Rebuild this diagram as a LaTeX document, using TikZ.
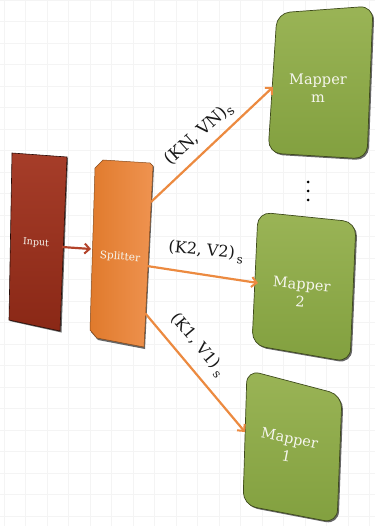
\documentclass[tikz,border=0pt]{standalone}
\usepackage{fontspec}
\setmainfont{DejaVu Serif}
\usetikzlibrary{arrows.meta}
\definecolor{gridc}{HTML}{F4F4F4}
\definecolor{inred}{HTML}{A63D29}
\definecolor{inredd}{HTML}{8A2816}
\definecolor{spor}{HTML}{EF9350}
\definecolor{spord}{HTML}{E07A2C}
\definecolor{arrowor}{HTML}{EC8A40}
\definecolor{arrowred}{HTML}{B3432A}
\definecolor{mgreen}{HTML}{9AB456}
\definecolor{mgreend}{HTML}{82A03F}
\definecolor{mborder}{HTML}{3E4A1C}
\definecolor{txtw}{HTML}{F6F6EE}
\tikzset{
  boxshadow/.style={fill=black!60},
  mapbox/.style={top color=mgreen, bottom color=mgreend, draw=mborder, line width=0.7pt, rounded corners=13pt},
  maptext/.style={text=txtw, font=\fontsize{14.5}{17}\selectfont, align=center, inner sep=0pt},
  smalltext/.style={text=txtw, inner sep=0pt},
  flow/.style={draw=arrowor, line width=2.2pt, -{Straight Barb[length=5pt,width=10pt,line width=2pt]}},
  labeltext/.style={font=\fontsize{16}{19}\selectfont, inner sep=0pt, text=black!90}
}
\begin{document}
\begin{tikzpicture}[x=1pt,y=-1pt]
\useasboundingbox (0,0) rectangle (375,526);
\fill[white] (0,0) rectangle (375,526);
% faint grid
\foreach \gx in {4,25.5,...,375} \draw[gridc, line width=0.6pt] (\gx,0) -- (\gx,526);
\foreach \gy in {0,21.5,...,526} \draw[gridc, line width=0.6pt] (0,\gy) -- (375,\gy);

% Input
\fill[boxshadow] (13.5,154) -- (68,158) -- (61.5,332.5) -- (9.5,321) -- cycle;
\path[top color=inred, bottom color=inredd, draw=black!70!inredd, line width=0.6pt]
  (12,153) -- (67,157) -- (60,331) -- (9,320) -- cycle;
\node[smalltext, font=\fontsize{9.5}{12}\selectfont, rotate=-4] (input) at (36,243) {Input};

% Splitter
\fill[boxshadow] (96,169) -- (104,161) -- (151,164) -- (154,167) -- (145,349) -- (98,340) -- (91,332) -- cycle;
\path[left color=spord, right color=spor, draw=black!40!spord, line width=0.5pt]
  (95,168) -- (103,160) -- (150,163) -- (153,166) -- (144,347) -- (97,338) -- (90,330) -- cycle;
\node[smalltext, font=\fontsize{10.5}{13}\selectfont, rotate=-5] (splitter) at (120,257) {Splitter};

% Mapper m
\fill[boxshadow, rounded corners=13pt] (278.5,14.5) -- (374.5,7.5) -- (368.5,160.5) -- (269.5,154.5) -- cycle;
\path[mapbox] (277,13) -- (373,6) -- (367,159) -- (268,153) -- cycle;
\node[maptext] (mapm) at (318,88) {Mapper\\[1pt]m};

% dots
\fill (308,182) circle (1.5) (308,191) circle (1.5) (308,200) circle (1.5);
\node[inner sep=0pt] (dots) at (308,191) {};

% Mapper 2
\fill[boxshadow, rounded corners=13pt] (259.5,213.5) -- (357.5,223.5) -- (351.5,363.5) -- (253.5,346.5) -- cycle;
\path[mapbox] (258,212) -- (356,222) -- (350,362) -- (252,345) -- cycle;
\node[maptext, rotate=-5] (map2) at (301,293) {Mapper\\[1pt]2};

% Mapper 1
\fill[boxshadow, rounded corners=13pt] (248.5,371.5) -- (343.5,396.5) -- (338.5,524.5) -- (244.5,506.5) -- cycle;
\path[mapbox] (247,370) -- (342,395) -- (337,523) -- (243,505) -- cycle;
\node[maptext, rotate=-11] (map1) at (288,447) {Mapper\\[1pt]1};

% connector end points
\coordinate (inout) at (62,247);
\coordinate (splitin) at (91,249);
\coordinate (sN) at (151,202);
\coordinate (s2) at (147,266);
\coordinate (s1) at (145,313);
\coordinate (mN) at (273,87);
\coordinate (m2) at (258,283);
\coordinate (m1) at (245,432);

\draw[draw=arrowred, line width=2.2pt, -{Straight Barb[length=5pt,width=10pt,line width=2pt]}] (inout) -- (splitin);
\draw[flow] (sN) -- (mN);
\draw[flow] (s2) -- (m2);
\draw[flow] (s1) -- (m1);

% labels
\node[labeltext, font=\fontsize{17}{20}\selectfont, rotate=42] (lN) at (199,134) {(KN, VN)\raisebox{-0.35ex}{\fontsize{13}{15}\selectfont s}};
\node[labeltext, rotate=-6] (l2) at (206,252) {(K2, V2)\,\raisebox{-0.6ex}{\fontsize{12}{14}\selectfont s}};
\node[labeltext, rotate=-50] (l1) at (198,345) {(K1, V1)\,\raisebox{-0.5ex}{\fontsize{12}{14}\selectfont s}};
\end{tikzpicture}
\end{document}
